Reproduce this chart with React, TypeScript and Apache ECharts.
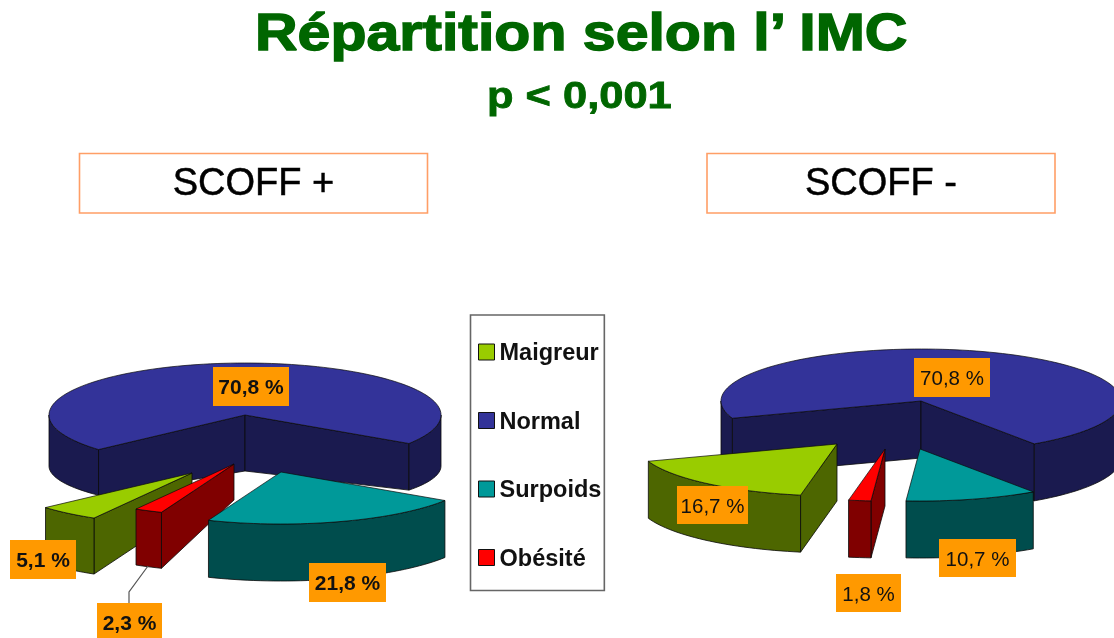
import React, { useEffect, useRef } from "react";
import * as echarts from "echarts";

// ---- data ----
const categories = ["Maigreur", "Normal", "Surpoids", "Obésité"];
const maigreur = [5.1, 16.7];
const normal = [70.8, 70.8];
const surpoids = [21.8, 10.7];
const obesite = [2.3, 1.8];
const groupNames = ["SCOFF +", "SCOFF -"];
const titleText = "Répartition selon l’ IMC";
const subtitleText = "p < 0,001";

// ---- styles / layout ----
const topColors = ["#99CC00", "#333399", "#009999", "#FF0000"];
const wallColors = ["#4D6600", "#1A1A4F", "#004D4D", "#800000"];
const FONT = "'Liberation Sans', Arial, sans-serif";

const valuesByCat = [maigreur, normal, surpoids, obesite];
const pieLayout = [
  { cx: 245, cy: 415, rx: 196, ry: 52, start: 120, weight: "bold", size: 21 },
  { cx: 921, cy: 401, rx: 200, ry: 52, start: 100.5, weight: "normal", size: 20.5 },
];
// apex offset of each slice from its pie's centre, [pie][category]
const apexOffsets = [
  [[-53, 58], [0, 0], [36, 57], [-11, 49]],
  [[-84, 43], [0, 0], [-1, 48], [-36, 48]],
];
// [depth at apex, depth at rim, bottom-rim vertical radius]
const depths = [
  [[36, 56, 52], [56, 51, 44], [56, 57, 52], [36, 56, 52]],
  [[57, 57, 52], [57, 57, 52], [57, 57, 52], [57, 57, 52]],
];
// label boxes [x, y, w, h], [pie][category]
const labelBoxes = [
  [[10, 540, 66, 39], [213, 367, 76, 39], [309, 563, 77, 39], [97, 603, 65, 38]],
  [[677, 486, 71, 38], [914, 358, 76, 39], [939, 539, 77, 38], [836, 574, 65, 38]],
];
const leaderLine = [[148, 566], [129, 592], [129, 604]];

const rad = (d: number) => (d * Math.PI) / 180;

function sliceRange(pie: number, cat: number) {
  let before = 0;
  for (let i = 0; i < cat; i++) before += valuesByCat[i][pie];
  const a0 = pieLayout[pie].start + before * 3.6;
  return [a0, a0 + valuesByCat[cat][pie] * 3.6];
}

function renderSlice(cat: number) {
  return (params: any, api: any) => {
    const pie = api.value(0);
    const value = api.value(1);
    const L = pieLayout[pie];
    const [ox, oy] = apexOffsets[pie][cat];
    const [dIn, dOut, ryB] = depths[pie][cat];
    const ax = L.cx + ox;
    const ay = L.cy + oy;
    const [a0, a1] = sliceRange(pie, cat);
    const top = (t: number) => [ax + L.rx * Math.cos(rad(t)), ay + L.ry * Math.sin(rad(t))];
    const bot = (t: number) => [ax + L.rx * Math.cos(rad(t)), ay + dOut + ryB * Math.sin(rad(t))];
    const samples = (lo: number, hi: number) => {
      const out: number[] = [];
      const n = Math.max(2, Math.ceil((hi - lo) / 2));
      for (let i = 0; i <= n; i++) out.push(lo + ((hi - lo) * i) / n);
      return out;
    };
    const wall = { fill: wallColors[cat], stroke: "#0a0a0a", lineWidth: 0.8, lineJoin: "round" };
    const children: any[] = [];
    let z = 1;
    const face = (a: number) => {
      children.push({
        type: "polygon",
        z2: z++,
        shape: { points: [[ax, ay], top(a), bot(a), [ax, ay + dIn]] },
        style: wall,
      });
    };
    if (Math.cos(rad(a0)) < 0) face(a0);
    if (Math.cos(rad(a1)) > 0) face(a1);
    [0, 360].forEach((k) => {
      const lo = Math.max(a0, k);
      const hi = Math.min(a1, k + 180);
      if (hi > lo) {
        const ts = samples(lo, hi);
        children.push({
          type: "polygon",
          z2: z++,
          shape: { points: [...ts.map(top), ...ts.slice().reverse().map(bot)] },
          style: wall,
        });
      }
    });
    children.push({
      type: "polygon",
      z2: z++,
      shape: { points: [[ax, ay], ...samples(a0, a1).map(top)] },
      style: { fill: topColors[cat], stroke: "#0a0a0a", lineWidth: 0.7, lineJoin: "round" },
    });
    if (pie === 0 && cat === 3) {
      children.push({
        type: "polyline",
        z2: 50,
        shape: { points: leaderLine },
        style: { fill: "none", stroke: "#555", lineWidth: 1.2 },
      });
    }
    const [bx, by, bw, bh] = labelBoxes[pie][cat];
    children.push({
      type: "rect",
      z2: 60,
      shape: { x: bx, y: by, width: bw, height: bh },
      style: { fill: "#FF9900" },
    });
    children.push({
      type: "text",
      z2: 61,
      x: bx + bw / 2,
      y: by + bh / 2,
      style: {
        text: value.toFixed(1).replace(".", ",") + " %",
        align: "center",
        verticalAlign: "middle",
        fill: "#111",
        font: `${L.weight} ${L.size}px ${FONT}`,
      },
    });
    return { type: "group", children };
  };
}

const drawOrder = [1, 0, 3, 2];

export default function App() {
  const ref = useRef<HTMLDivElement>(null);
  useEffect(() => {
    const chart = echarts.init(ref.current!, null, { renderer: "svg" });
    const boxText = (i: number, x: number) => [
      {
        type: "rect",
        shape: { x, y: 153.5, width: 348, height: 59.5 },
        style: { fill: "#fff", stroke: "#FF9E66", lineWidth: 1.6 },
      },
      {
        type: "text",
        x: x + 174,
        y: 182,
        style: {
          text: groupNames[i],
          align: "center",
          verticalAlign: "middle",
          fill: "#000",
          stroke: "#000",
          lineWidth: 0.5,
          font: `38px ${FONT}`,
        },
      },
    ];
    chart.setOption({
      animation: false,
      backgroundColor: "#fff",
      legend: {
        orient: "vertical",
        left: 470.5,
        top: 315,
        padding: [25, 3, 21, 7.5],
        itemWidth: 16,
        itemHeight: 16,
        itemGap: 44.5,
        borderColor: "#666",
        borderWidth: 1.6,
        backgroundColor: "#fff",
        selectedMode: false,
        icon: "rect",
        textStyle: {
          fontFamily: FONT,
          fontWeight: "bold",
          fontSize: 23.5,
          color: "#111",
        },
        data: categories.map((name, i) => ({
          name,
          icon: "rect",
          itemStyle: { color: topColors[i], borderColor: "#111", borderWidth: 1 },
        })),
      },
      graphic: [
        {
          type: "text",
          x: 255,
          y: 32,
          scaleX: 1.135,
          style: {
            text: titleText,
            align: "left",
            verticalAlign: "middle",
            fill: "#006600",
            stroke: "#006600",
            lineWidth: 1.4,
            font: `bold 52px ${FONT}`,
          },
        },
        {
          type: "text",
          x: 487,
          y: 95.5,
          scaleX: 1.19,
          style: {
            text: subtitleText,
            align: "left",
            verticalAlign: "middle",
            fill: "#006600",
            stroke: "#006600",
            lineWidth: 0.8,
            font: `bold 36.5px ${FONT}`,
          },
        },
        ...boxText(0, 79.5),
        ...boxText(1, 707),
      ],
      series: drawOrder.map((cat, i) => ({
        type: "custom",
        name: categories[cat],
        coordinateSystem: "none",
        z: 2 + i,
        silent: true,
        clip: false,
        itemStyle: { color: topColors[cat] },
        data: pieLayout.map((_, pie) => [pie, valuesByCat[cat][pie]]),
        renderItem: renderSlice(cat),
      })),
    });
    return () => chart.dispose();
  }, []);
  return (
    <div
      ref={ref}
      style={{ position: "fixed", left: 0, top: 0, width: 1114, height: 638, background: "#fff", filter: "blur(0.4px)" }}
    />
  );
}
